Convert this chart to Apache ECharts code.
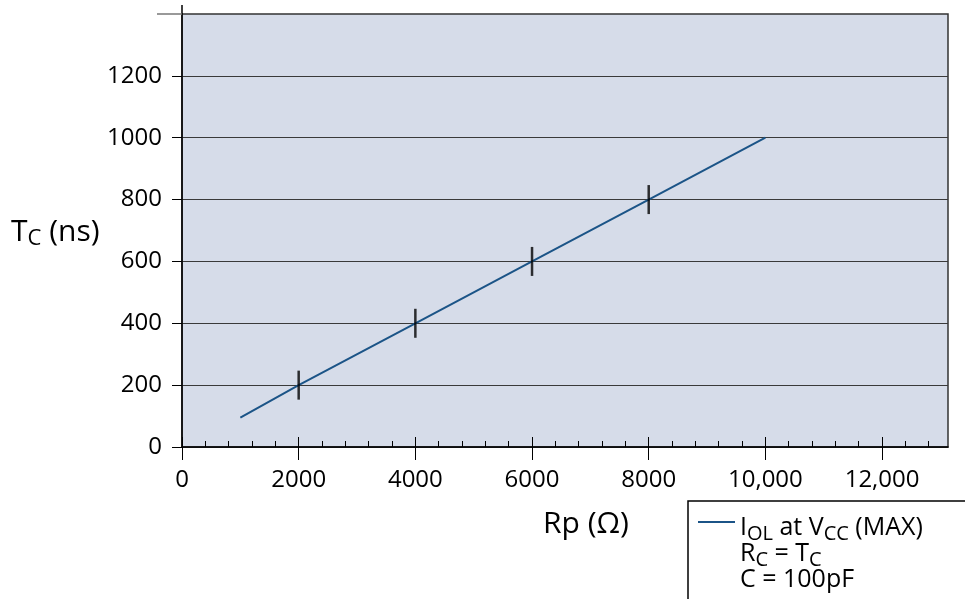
<!DOCTYPE html>
<html><head><meta charset="utf-8">
<script src="https://cdn.jsdelivr.net/npm/echarts@6/dist/echarts.min.js"></script>
<style>html,body{margin:0;padding:0;background:#fff}#c{width:965px;height:599px}</style>
</head><body><div id="c"></div>
<script>
// ---- data ----
var rpValues = [1000, 2000, 4000, 6000, 8000, 10000];
var tcValues = [95, 200, 400, 600, 800, 1000];
var markRp = [2000, 4000, 6000, 8000];
var markTc = [200, 400, 600, 800];
var xMajorTicks = [0, 2000, 4000, 6000, 8000, 10000, 12000];
var xMinorTicks = [400, 800, 1200, 1600, 2400, 2800, 3200, 3600, 4400, 4800, 5200, 5600,
  6400, 6800, 7200, 7600, 8400, 8800, 9200, 9600, 10400, 10800, 11200, 11600, 12400, 12800];
var yTicks = [0, 200, 400, 600, 800, 1000, 1200];
var yTopTick = [1400];
var xMin = 0, xMax = 13130, yMin = 0, yMax = 1400;

var FONT = 'Open Sans';
var LINE_COLOR = '#1b5487';
var chart = echarts.init(document.getElementById('c'));

function fmtX(v) {
  return v >= 10000 ? String(v).replace(/\B(?=(\d{3})+(?!\d))/g, ',') : String(v);
}
function fmtY(v) { return String(v); }
function xAxisBase() {
  return { type: 'value', min: xMin, max: xMax, interval: 2000, gridIndex: 0, position: 'bottom',
    splitLine: { show: false }, axisLine: { show: false }, axisLabel: { show: false }, axisTick: { show: false } };
}
var xa0 = xAxisBase();
xa0.axisLine = { show: true, lineStyle: { color: '#000', width: 1.5 } };
xa0.axisTick = { show: true, inside: false, length: 13, customValues: xMajorTicks, lineStyle: { color: '#000', width: 1 } };
xa0.axisLabel = { show: true, customValues: xMajorTicks, formatter: fmtX, margin: 21,
  fontFamily: FONT, fontSize: 24, color: '#000' };
var xa1 = xAxisBase();
xa1.axisTick = { show: true, inside: true, length: 10, customValues: xMajorTicks, lineStyle: { color: '#000', width: 1 } };
var xa2 = xAxisBase();
xa2.axisTick = { show: true, inside: true, length: 6, customValues: xMinorTicks, lineStyle: { color: '#000', width: 1 } };

chart.setOption({
  animation: false,
  grid: { left: 182, right: 17, top: 14, bottom: 152, show: true,
    backgroundColor: '#d6dce9', borderColor: '#333', borderWidth: 1.5 },
  xAxis: [xa0, xa1, xa2],
  yAxis: [{
    type: 'value', min: yMin, max: yMax, interval: 200,
    axisLine: { show: true, lineStyle: { color: '#000', width: 1.5 } },
    axisTick: { show: true, length: 10, customValues: yTicks, lineStyle: { color: '#000' } },
    axisLabel: { customValues: yTicks, formatter: fmtY, margin: 20, fontFamily: FONT, fontSize: 24, color: '#000' },
    splitLine: { show: true, lineStyle: { color: '#3a3a3a', width: 1 } }
  }, {
    type: 'value', min: yMin, max: yMax, interval: 200, position: 'left',
    axisLine: { show: false }, axisLabel: { show: false }, splitLine: { show: false },
    axisTick: { show: true, length: 25, customValues: yTopTick, lineStyle: { color: '#777', width: 1.5 } }
  }],
  series: [{
    type: 'line', xAxisIndex: 0, yAxisIndex: 0,
    data: rpValues.map(function (x, i) { return [x, tcValues[i]]; }),
    showSymbol: false, lineStyle: { color: LINE_COLOR, width: 2 }, z: 3
  }, {
    type: 'scatter', xAxisIndex: 0, yAxisIndex: 0,
    data: markRp.map(function (x, i) { return [x, markTc[i]]; }),
    symbol: 'rect', symbolSize: [2.5, 29], itemStyle: { color: '#000' }, z: 4
  }]
});

var top0 = chart.convertToPixel({ gridIndex: 0 }, [0, yMax]);
chart.setOption({
  graphic: [
    { type: 'line', shape: { x1: top0[0], y1: top0[1], x2: top0[0], y2: top0[1] - 9 },
      style: { stroke: '#000', lineWidth: 1.5 } },
    { type: 'text', left: 11, top: 214,
      style: { text: '{m|T}{s|C}{m| (ns)}', fill: '#000',
        rich: { m: { fontFamily: FONT, fontSize: 30, lineHeight: 36, fill: '#000' },
                s: { fontFamily: FONT, fontSize: 22, lineHeight: 14, padding: [14, 0, 0, 0], fill: '#000' } } } },
    { type: 'text', left: 543, top: 509,
      style: { text: 'Rp (\u03A9)', fontFamily: FONT, fontSize: 30, fill: '#000' } },
    { type: 'rect', shape: { x: 688, y: 501, width: 400, height: 200 },
      style: { fill: '#fff', stroke: '#000', lineWidth: 1.5 } },
    { type: 'line', shape: { x1: 698, y1: 522, x2: 735, y2: 522 },
      style: { stroke: LINE_COLOR, lineWidth: 2 } },
    { type: 'text', left: 740, top: 512,
      style: { text: '{m|I}{s|OL}{m| at V}{s|CC}{m| (MAX)}\n{m|R}{s|C}{m| = T}{s|C}\n{m|C = 100pF}', fill: '#000',
        rich: { m: { fontFamily: FONT, fontSize: 25, lineHeight: 26, fill: '#000' },
                s: { fontFamily: FONT, fontSize: 20, lineHeight: 12, padding: [12, 0, 0, 0], fill: '#000' } } } }
  ]
});
</script></body></html>
